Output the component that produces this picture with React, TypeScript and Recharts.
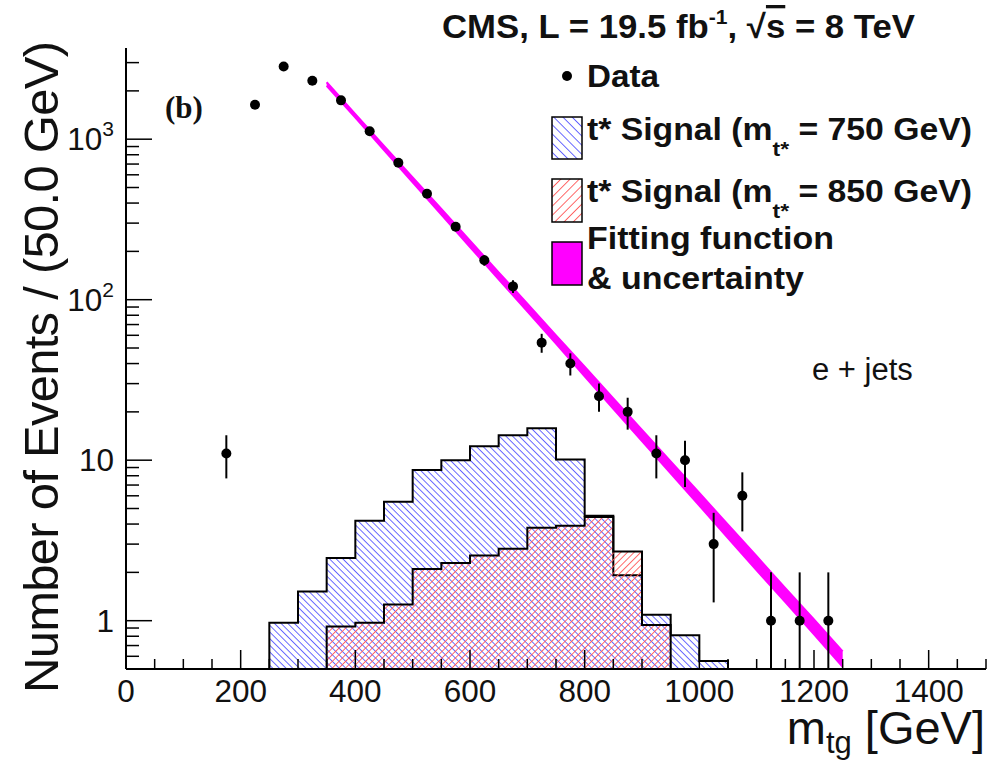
import { ComposedChart, Area, Scatter, ErrorBar, XAxis, YAxis } from "recharts";

const FONT = "'Liberation Sans', Arial, Helvetica, sans-serif";
const BIN_WIDTH = 50;
const Y_MIN = 0.5;
const Y_MAX = 3700;

// data points (bin centres, counts, stat. errors)
const dataMass = [175, 225, 275, 325, 375, 425, 475, 525, 575, 625, 675, 725, 775, 825, 875, 925, 975, 1025, 1075, 1125, 1175, 1225];
const dataCounts = [11, 1640, 2840, 2313, 1746, 1120, 713, 457, 285, 176, 121, 54, 40, 25, 20, 11, 10, 3, 6, 1, 1, 1];
const dataErrors = [3.3, 40.5, 53.3, 48.1, 41.8, 33.5, 26.7, 21.4, 16.9, 13.3, 11, 7.3, 6.3, 5, 4.5, 3.3, 3.2, 1.7, 2.4, 1, 1, 1];

// signal templates, first bin low edge + bin contents
const signal750Start = 250;
const signal750 = [0.97, 1.52, 2.46, 4.2, 5.5, 8.7, 10.0, 12.2, 14.3, 15.8, 10.1, 4.5, 1.92, 1.09, 0.81, 0.56];
const signal850Start = 350;
const signal850 = [0.92, 0.97, 1.26, 2.1, 2.29, 2.55, 2.81, 3.79, 3.91, 4.42, 2.7, 0.94];

// fitting function and its relative uncertainty
const fitMass = [350, 400, 450, 500, 550, 600, 650, 700, 750, 800, 850, 900, 950, 1000, 1050, 1100, 1150, 1200, 1250];
const fitValues = [2208, 1396, 883, 558, 353, 223, 141, 89.5, 56.6, 35.8, 22.6, 14.3, 9.06, 5.73, 3.62, 2.29, 1.45, 0.92, 0.58];
const fitUncertainty = [0.025, 0.025, 0.03, 0.035, 0.04, 0.045, 0.05, 0.055, 0.06, 0.07, 0.075, 0.08, 0.085, 0.09, 0.095, 0.1, 0.1, 0.105, 0.11];

const X_TICKS = [0, 50, 100, 150, 200, 250, 300, 350, 400, 450, 500, 550, 600, 650, 700, 750, 800, 850, 900, 950, 1000, 1050, 1100, 1150, 1200, 1250, 1300, 1350, 1400, 1450, 1500];
const Y_TICKS = [0.6, 0.7, 0.8, 0.9, 1, 2, 3, 4, 5, 6, 7, 8, 9, 10, 20, 30, 40, 50, 60, 70, 80, 90, 100, 200, 300, 400, 500, 600, 700, 800, 900, 1000, 2000, 3000];
const Y_LABELS: Record<number, [string, string]> = { 1: ["1", ""], 10: ["10", ""], 100: ["10", "2"], 1000: ["10", "3"] };

function toSteps(start: number, values: number[]) {
  const pts = [{ x: start, y: Y_MIN }];
  values.forEach((v, i) => pts.push({ x: start + i * BIN_WIDTH, y: v }));
  const end = start + values.length * BIN_WIDTH;
  pts.push({ x: end, y: values[values.length - 1] }, { x: end, y: Y_MIN });
  return pts;
}

const sig750Steps = toSteps(signal750Start, signal750);
const sig850Steps = toSteps(signal850Start, signal850);
const fitBand = fitMass.map((x, i) => ({
  x,
  band: [fitValues[i] * (1 - fitUncertainty[i]), fitValues[i] * (1 + fitUncertainty[i])],
}));
const points = dataMass.map((x, i) => ({
  x,
  n: dataCounts[i],
  err: [Math.min(dataErrors[i], dataCounts[i] - Y_MIN), dataErrors[i]],
}));

const isMajorY = (v: number) => v in Y_LABELS;

function BottomTick({ x, y, payload }: any) {
  const v = payload.value as number;
  const major = v % 200 === 0;
  return (
    <g>
      <line x1={x} y1={y} x2={x} y2={y - (major ? 19 : 10)} stroke="#000" strokeWidth={1.5} />
      {major && (
        <text x={x} y={y + 33} textAnchor="middle" fontSize={31.5} fontFamily={FONT} fill="#111">
          {v}
        </text>
      )}
    </g>
  );
}

function TopTick({ x, y, payload }: any) {
  const major = payload.value % 200 === 0;
  return <line x1={x} y1={y} x2={x} y2={y + (major ? 19 : 10)} stroke="#000" strokeWidth={1.5} />;
}

function LeftTick({ x, y, payload }: any) {
  const v = payload.value as number;
  const major = isMajorY(v);
  const label = Y_LABELS[v];
  return (
    <g>
      <line x1={x} y1={y} x2={x + (major ? 26 : 13)} y2={y} stroke="#000" strokeWidth={1.5} />
      {label && (
        <text x={114} y={y + 11} textAnchor="end" fontSize={31.5} fontFamily={FONT} fill="#111">
          {label[0]}
          {label[1] && (
            <tspan dy={-14} fontSize={21}>
              {label[1]}
            </tspan>
          )}
        </text>
      )}
    </g>
  );
}

function RightTick({ x, y, payload }: any) {
  const major = isMajorY(payload.value);
  return <line x1={x} y1={y} x2={x - (major ? 14 : 10)} y2={y} stroke="#000" strokeWidth={1.5} />;
}

const dotShape = (p: any) => <circle cx={p.cx} cy={p.cy} r={5} fill="#000" />;

const legendText = { fontSize: 31, fontWeight: "bold", fontFamily: FONT, fill: "#111", lengthAdjust: "spacingAndGlyphs" } as const;

export default function App() {
  return (
    <div style={{ width: 991, height: 764, background: "#fff" }}>
      <style>{"body{margin:0}"}</style>
      <ComposedChart width={991} height={764} margin={{ top: 48, right: 5, bottom: 0, left: 0 }}>
        <defs>
          <pattern id="hatchBlue" patternUnits="userSpaceOnUse" width={4.7} height={4.7} patternTransform="rotate(-45)">
            <line x1={2.35} y1={0} x2={2.35} y2={4.7} stroke="#5a5aff" strokeWidth={0.9} />
          </pattern>
          <pattern id="hatchRed" patternUnits="userSpaceOnUse" width={4.7} height={4.7} patternTransform="rotate(45)">
            <line x1={2.35} y1={0} x2={2.35} y2={4.7} stroke="#ff5a5a" strokeWidth={0.9} />
          </pattern>
          <pattern id="hatchBlueLeg" patternUnits="userSpaceOnUse" width={6.5} height={6.5} patternTransform="rotate(-45)">
            <line x1={3.25} y1={0} x2={3.25} y2={6.5} stroke="#5a5aff" strokeWidth={0.9} />
          </pattern>
          <pattern id="hatchRedLeg" patternUnits="userSpaceOnUse" width={6.5} height={6.5} patternTransform="rotate(45)">
            <line x1={3.25} y1={0} x2={3.25} y2={6.5} stroke="#ff5a5a" strokeWidth={0.9} />
          </pattern>
        </defs>

        <XAxis
          dataKey="x"
          type="number"
          domain={[0, 1500]}
          allowDataOverflow
          ticks={X_TICKS}
          interval={0}
          height={95}
          tickSize={0}
          tickMargin={0}
          tickLine={false}
          tick={<BottomTick />}
          axisLine={{ stroke: "#000", strokeWidth: 2 }}
        />
        <XAxis
          xAxisId="top"
          orientation="top"
          dataKey="x"
          type="number"
          domain={[0, 1500]}
          allowDataOverflow
          ticks={X_TICKS}
          interval={0}
          height={0}
          tickSize={0}
          tickMargin={0}
          tickLine={false}
          tick={<TopTick />}
          axisLine={{ stroke: "#000", strokeWidth: 2 }}
        />
        <YAxis
          type="number"
          scale="log"
          domain={[Y_MIN, Y_MAX]}
          allowDataOverflow
          ticks={Y_TICKS}
          interval={0}
          width={126}
          tickSize={0}
          tickMargin={0}
          tickLine={false}
          tick={<LeftTick />}
          axisLine={{ stroke: "#000", strokeWidth: 2 }}
        />
        <YAxis
          yAxisId="right"
          orientation="right"
          type="number"
          scale="log"
          domain={[Y_MIN, Y_MAX]}
          allowDataOverflow
          ticks={Y_TICKS}
          interval={0}
          width={0}
          tickSize={0}
          tickMargin={0}
          tickLine={false}
          tick={<RightTick />}
          axisLine={{ stroke: "#000", strokeWidth: 2 }}
        />

        <Area
          data={sig750Steps}
          dataKey="y"
          type="stepAfter"
          baseValue={Y_MIN}
          stroke="#000"
          strokeWidth={2}
          fill="url(#hatchBlue)"
          fillOpacity={1}
          dot={false}
          activeDot={false}
          isAnimationActive={false}
        />
        <Area
          data={sig850Steps}
          dataKey="y"
          type="stepAfter"
          baseValue={Y_MIN}
          stroke="#000"
          strokeWidth={2}
          fill="url(#hatchRed)"
          fillOpacity={1}
          dot={false}
          activeDot={false}
          isAnimationActive={false}
        />
        <Area
          data={fitBand}
          dataKey="band"
          type="linear"
          stroke="#ff00ff"
          strokeWidth={2}
          fill="#ff00ff"
          fillOpacity={1}
          dot={false}
          activeDot={false}
          isAnimationActive={false}
        />
        <Scatter data={points} dataKey="n" shape={dotShape} isAnimationActive={false}>
          <ErrorBar dataKey="err" direction="y" width={0} stroke="#000" strokeWidth={2} isAnimationActive={false} />
        </Scatter>

        {/* title */}
        <text x={442} y={38} fontSize={33} fontWeight="bold" fontFamily={FONT} fill="#111" textLength={473} lengthAdjust="spacingAndGlyphs">
          CMS, L = 19.5 fb
          <tspan dy={-14} fontSize={20}>-1</tspan>
          <tspan dy={14}>, √</tspan>
          <tspan style={{ textDecoration: "overline" }}>s</tspan>
          <tspan> = 8 TeV</tspan>
        </text>

        {/* axis titles */}
        <text
          transform="translate(58,693) rotate(-90)"
          fontSize={49}
          fontFamily={FONT}
          fill="#111"
          textLength={652}
          lengthAdjust="spacing"
        >
          Number of Events / (50.0 GeV)
        </text>
        <text x={985} y={744} textAnchor="end" fontSize={47} fontFamily={FONT} fill="#111">
          m
          <tspan dy={9} fontSize={31}>tg</tspan>
          <tspan dy={-9}> [GeV]</tspan>
        </text>

        <text x={165} y={118} fontSize={31} fontWeight="bold" fontFamily="'Liberation Serif', 'Times New Roman', serif" fill="#111">
          (b)
        </text>
        <text x={812} y={380} fontSize={31} fontFamily={FONT} fill="#111">
          e + jets
        </text>

        {/* legend */}
        <circle cx={567} cy={76} r={5} fill="#000" />
        <text x={587} y={87} {...legendText} textLength={72}>
          Data
        </text>
        <rect x={552} y={117} width={30} height={42} fill="url(#hatchBlueLeg)" stroke="#000" strokeWidth={1.5} />
        <text x={587} y={139.5} {...legendText} textLength={385}>
          t* Signal (m
          <tspan dy={16} fontSize={21}>t*</tspan>
          <tspan dy={-16}> = 750 GeV)</tspan>
        </text>
        <rect x={552} y={179} width={30} height={43} fill="url(#hatchRedLeg)" stroke="#000" strokeWidth={1.5} />
        <text x={587} y={201.5} {...legendText} textLength={385}>
          t* Signal (m
          <tspan dy={16} fontSize={21}>t*</tspan>
          <tspan dy={-16}> = 850 GeV)</tspan>
        </text>
        <rect x={552} y={242} width={30} height={43} fill="#ff00ff" stroke="#000" strokeWidth={1.5} />
        <text x={587} y={248.5} {...legendText} textLength={247}>
          Fitting function
        </text>
        <text x={587} y={288.5} {...legendText} textLength={217}>
          &amp; uncertainty
        </text>
      </ComposedChart>
    </div>
  );
}
